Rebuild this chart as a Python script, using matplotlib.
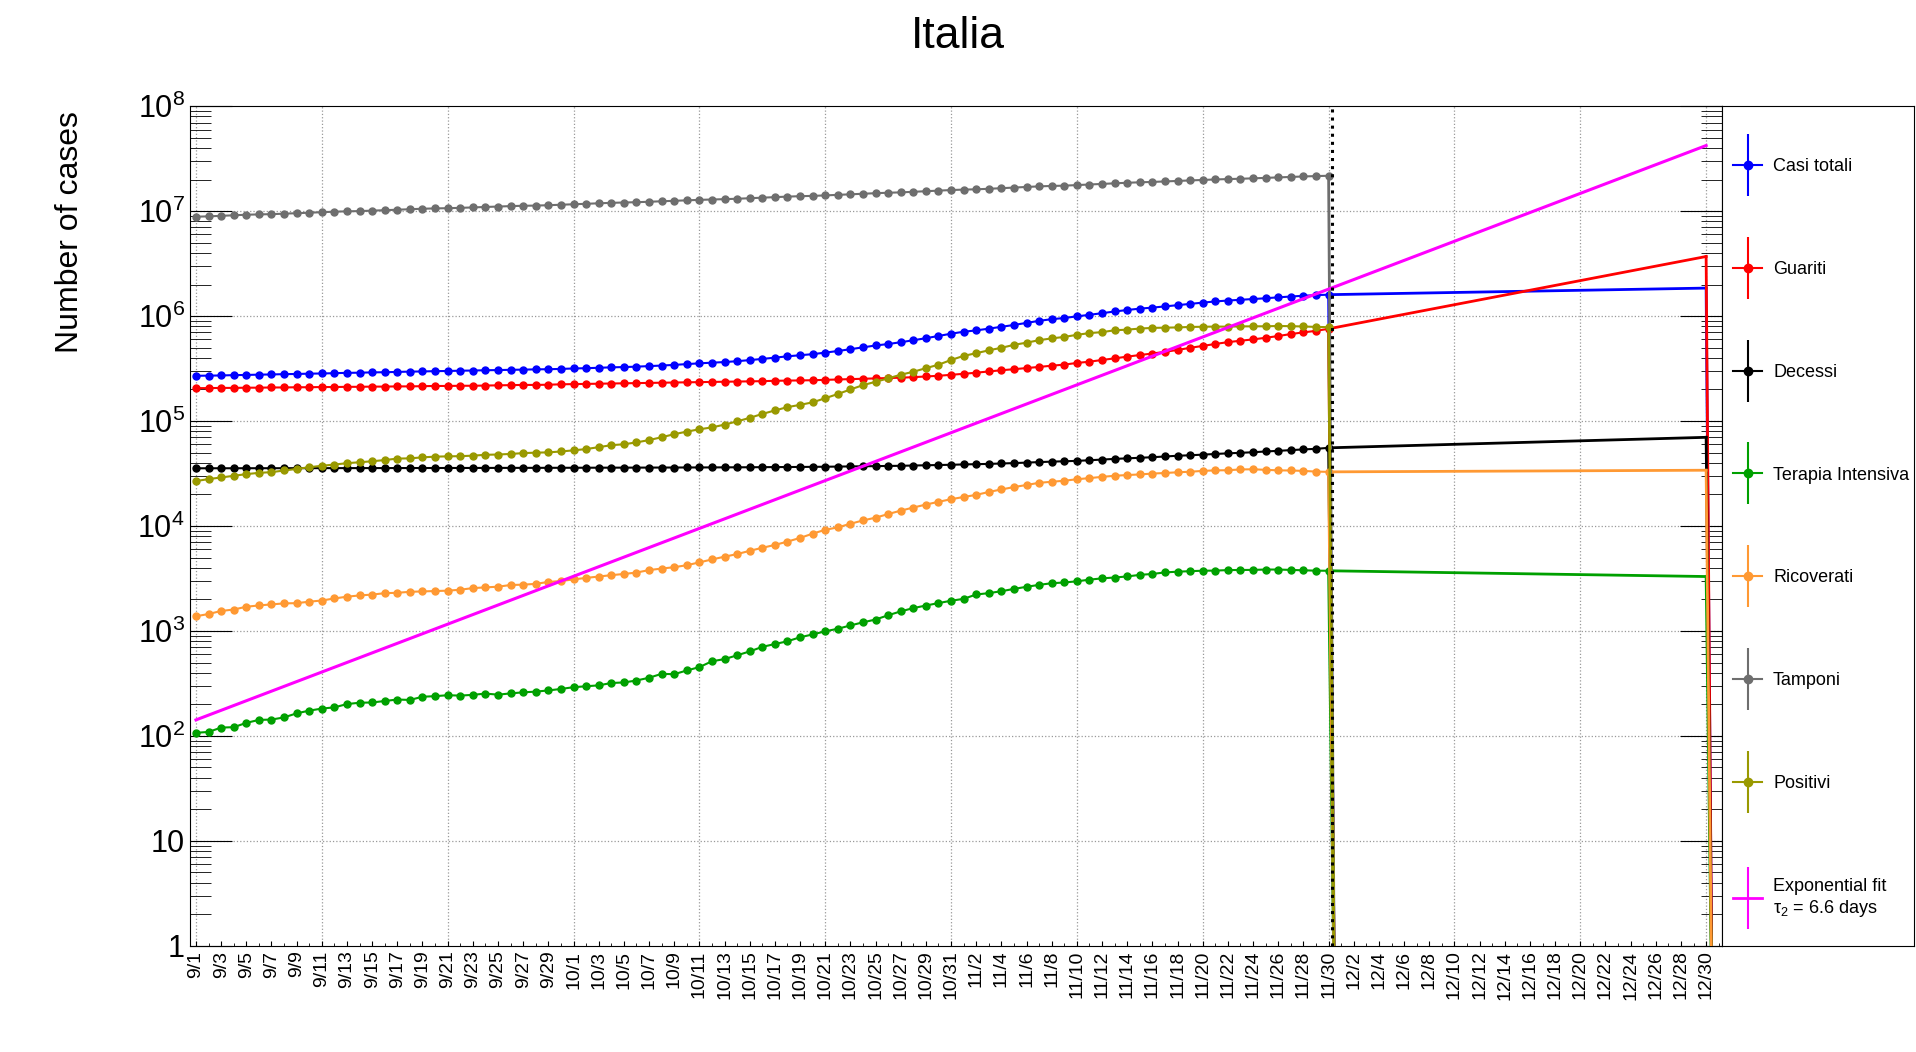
import numpy as np
import matplotlib
matplotlib.use("Agg")
import matplotlib.pyplot as plt
from matplotlib.lines import Line2D
from matplotlib.legend_handler import HandlerTuple
import datetime as dt

plt.rcParams['font.family'] = ['Liberation Sans', 'DejaVu Sans']
plt.rcParams['mathtext.fontset'] = 'custom'
plt.rcParams['mathtext.rm'] = 'Liberation Sans'
plt.rcParams['mathtext.it'] = 'Liberation Sans'

tamponi_M = [8.86,8.93,9.03,9.14,9.25,9.32,9.37,9.47,9.57,9.67,9.78,9.89,9.97,10.02,10.12,10.22,10.33,10.44,10.55,10.63,10.68,10.76,10.86,10.97,11.07,11.18,11.26,11.31,11.40,11.52,
 11.64,11.76,11.89,12.01,12.10,12.18,12.30,12.43,12.56,12.69,12.82,12.92,13.02,13.14,13.29,13.45,13.61,13.77,13.90,13.99,14.14,14.31,14.48,14.66,14.84,14.99,15.11,15.30,15.50,15.70,15.90,
 16.06,16.16,16.35,16.56,16.79,17.02,17.24,17.40,17.51,17.73,17.96,18.19,18.43,18.66,18.85,19.00,19.21,19.42,19.64,19.85,20.06,20.24,20.37,20.56,20.77,20.99,21.20,21.42,21.61,21.75]
casi_k = [270,271,272,274,275,277,278,280,281,283,284,286,288,289,291,292,294,296,297,299,300,302,303,305,306,308,309,311,312,314,
 317,319,322,325,327,330,334,338,343,349,355,360,365,372,381,391,402,414,424,434,449,465,484,504,525,542,564,589,616,647,680,
 710,731,760,791,824,862,902,935,960,995,1029,1067,1107,1144,1179,1205,1238,1272,1308,1345,1380,1408,1431,1455,1480,1510,1538,1564,1585,1601]
guariti_k = [206,206,207,207,208,208,209,209,210,210,211,211,212,212,213,213,214,214,215,216,216,217,217,218,219,220,221,221,222,224,
 225,226,227,228,229,230,231,232,233,234,235,236,237,238,239,240,242,243,244,245,247,249,251,253,255,257,259,262,266,270,276,
 282,289,297,305,312,320,328,337,345,358,368,382,396,411,426,440,457,476,499,520,543,565,583,600,622,646,675,700,724,757]
decessi_k = [35.48,35.49,35.50,35.51,35.52,35.53,35.54,35.55,35.56,35.57,35.59,35.60,35.61,35.62,35.63,35.64,35.66,35.67,35.69,35.70,35.72,35.73,35.74,35.76,35.78,35.80,35.81,35.82,35.84,35.87,
 35.89,35.92,35.94,35.97,35.99,36.00,36.03,36.06,36.08,36.11,36.14,36.17,36.21,36.25,36.29,36.37,36.43,36.47,36.54,36.62,36.71,36.83,36.97,37.06,37.21,37.34,37.48,37.70,37.90,38.12,38.32,
 38.62,38.83,39.06,39.41,39.76,40.19,40.64,41.06,41.39,41.75,42.33,42.95,43.59,44.14,44.68,45.23,45.96,46.71,47.22,47.87,48.57,49.26,49.82,50.45,51.31,52.03,52.85,53.68,54.36,55.58]
terapia = [107,109,120,121,133,142,143,150,164,174,182,187,201,207,208,215,222,220,236,239,244,242,246,253,247,254,260,264,271,280,
 291,297,303,319,323,337,358,390,387,420,452,514,539,586,638,705,750,797,870,926,992,1049,1128,1208,1284,1411,1536,1651,1746,1843,1939,
 2022,2225,2292,2391,2515,2634,2749,2849,2896,2971,3081,3170,3230,3306,3422,3492,3612,3670,3712,3748,3758,3801,3810,3816,3848,3846,3816,3782,3753,3744]
ricoverati = [1380,1450,1550,1600,1700,1750,1790,1830,1840,1900,1950,2040,2120,2180,2220,2290,2310,2360,2380,2400,2420,2470,2560,2600,2640,2740,2760,2810,2930,2990,
 3100,3200,3300,3400,3490,3600,3800,3930,4050,4230,4500,4800,5100,5400,5800,6200,6600,7100,7700,8450,9200,9700,10500,11300,12000,13000,14000,15000,16000,17000,18000,
 18900,19800,21100,22300,23500,24600,25800,26400,27000,27900,28600,29400,30100,30600,31000,31600,32000,32500,32900,33500,33900,34000,34600,34700,34300,33900,33800,33500,33000,32800]
positivi_k = [26.8,28.0,29.0,30.1,31.2,32.1,32.6,33.8,35.0,36.3,37.5,38.5,39.7,40.5,41.4,42.5,43.9,44.1,45.1,45.8,46.1,46.3,46.8,47.7,48.0,48.6,49.5,50.0,50.3,51.3,
 52.6,54.1,56.4,58.9,60.1,62.6,65.9,70.1,75.0,79.3,83.5,87.0,92.5,99.3,107.3,116.9,126.2,135.8,142.7,150.8,165.1,181.0,199.9,220.0,236.7,255.1,276.5,294.9,319.2,344.3,382.0,
 418.1,443.2,472.3,499.0,532.5,558.6,590.1,613.4,633.8,663.5,689.3,703.8,733.4,743.2,761.2,772.1,776.5,780.3,788.7,791.7,795.4,793.3,798.3,799.3,800.1,805.6,802.0,796.6,789.3,785.0]
# extrapolated values at 12/30
end_values = {"Casi totali": 1.85e6, "Guariti": 3.7e6, "Decessi": 7.0e4,
              "Terapia Intensiva": 3.3e3, "Ricoverati": 3.4e4}
fit_amp = 142.0      # value at 9/1
fit_tau2 = 6.6       # doubling time (days)

series = [
    ("Casi totali", np.array(casi_k) * 1e3, "#0000ff"),
    ("Guariti", np.array(guariti_k) * 1e3, "#ff0000"),
    ("Decessi", np.array(decessi_k) * 1e3, "#000000"),
    ("Terapia Intensiva", np.array(terapia, float), "#00a000"),
    ("Ricoverati", np.array(ricoverati, float), "#ff9933"),
    ("Tamponi", np.array(tamponi_M) * 1e6, "#6e6e6e"),
    ("Positivi", np.array(positivi_k) * 1e3, "#999900"),
]

start = dt.date(2020, 9, 1)
ndays = 122
labels = []
for d in range(0, ndays, 2):
    dd = start + dt.timedelta(days=d)
    labels.append(f"{dd.month}/{dd.day}")

fig = plt.figure(figsize=(19.16, 10.52), dpi=100)
ax = fig.add_axes([0.099, 0.101, 0.800, 0.798])
ax.set_yscale("log")
ax.set_ylim(1, 1e8)
ax.set_xlim(-0.5, 121.3)

LOW = 0.1
for name, vals, col in series:
    x = np.arange(len(vals))
    last = len(vals) - 1
    ax.plot(x, vals, "-o", color=col, lw=1.5, ms=5, zorder=3)
    ax.plot([last, last + 0.5], [vals[-1], LOW], color=col, lw=2, zorder=3)
    if name in end_values:
        ev = end_values[name]
        ax.plot([last, 120], [vals[-1], ev], color=col, lw=2, zorder=3)
        ax.plot([120, 120.5], [ev, LOW], color=col, lw=2, zorder=3)

xf = np.arange(0, 121)
ax.plot(xf, fit_amp * 2 ** (xf / fit_tau2), color="#ff00ff", lw=2.2, zorder=4)
ax.axvline(90.3, color="black", ls=":", lw=2.2, zorder=5)

for gx in range(0, 121, 10):
    ax.axvline(gx, color="#999999", ls=":", lw=0.9, zorder=1)
for e in range(1, 8):
    ax.axhline(10 ** e, color="#999999", ls=":", lw=0.9, zorder=1)

ax.set_xticks(np.arange(0, ndays, 2))
ax.set_xticklabels(labels, rotation=90, fontsize=14)
ax.set_xticks(np.arange(0, ndays, 1), minor=True)
ticks = [10 ** e for e in range(0, 9)]
tl = ["1", "10"] + [f"$10^{{{e}}}$" for e in range(2, 9)]
ax.set_yticks(ticks)
ax.set_yticklabels(tl, fontsize=22)
ax.tick_params(direction="in", which="both", top=False, right=True)
ax.tick_params(axis="y", which="major", length=30)
ax.tick_params(axis="y", which="minor", length=15)
ax.set_ylabel("Number of cases", fontsize=23)
ax.yaxis.set_label_coords(-0.068, 0.85)
fig.text(0.5, 0.965, "Italia", ha="center", va="center", fontsize=32)

handles, names = [], []
for name, vals, col in series:
    h1 = Line2D([], [], color=col, marker="o", ms=6, lw=1.5)
    h2 = Line2D([], [], color=col, marker="|", ms=45, lw=0, mew=1.5)
    handles.append((h1, h2)); names.append(name)
handles.append((Line2D([], [], color="#ff00ff", lw=2),
                Line2D([], [], color="#ff00ff", marker="|", ms=45, lw=0, mew=1.5)))
names.append("Exponential fit\n$\\tau_2$ = 6.6 days")

lax = fig.add_axes([0.899, 0.101, 0.1, 0.798])
lax.set_xticks([]); lax.set_yticks([])
leg = lax.legend(handles, names, handler_map={tuple: HandlerTuple(ndivide=1)},
           loc="center left", frameon=False, fontsize=13, labelspacing=4.75,
           handlelength=1.6, borderaxespad=0.2, handletextpad=0.6,
           bbox_to_anchor=(0.0, 0.485))
leg.set_clip_on(False)

fig.savefig("out.png", dpi=100)
